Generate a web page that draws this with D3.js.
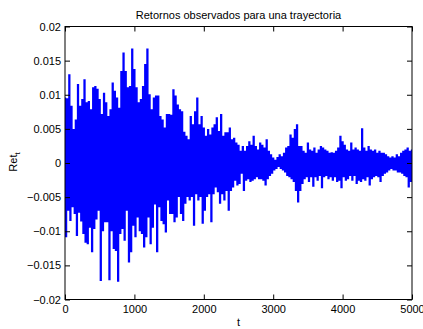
<!DOCTYPE html>
<html>
<head>
<meta charset="utf-8">
<script src="https://cdn.jsdelivr.net/npm/d3@7"></script>
<style>
  body { margin: 0; background: #fff; }
  text { font-family: "Liberation Sans", Arial, Helvetica, sans-serif; }
</style>
</head>
<body>
<div id="chart"></div>
<script>
// chart texts
const title = 'Retornos observados para una trayectoria';
const xLabel = 't';

// returns: upper and lower swing every 31.25 steps of t
const tStep = 31.25;
const retHigh = [
  0.0095, 0.0094, 0.0129, 0.0083, 0.0049, 0.0063, 0.0115, 0.0083, 0.0093, 0.0122,
  0.0088, 0.0090, 0.0078, 0.0110, 0.0112, 0.0108, 0.0093, 0.0071, 0.0102, 0.0088,
  0.0068, 0.0078, 0.0117, 0.0105, 0.0095, 0.0080, 0.0134, 0.0161, 0.0134, 0.0110,
  0.0112, 0.0167, 0.0137, 0.0110, 0.0088, 0.0093, 0.0112, 0.0144, 0.0167, 0.0100,
  0.0078, 0.0095, 0.0098, 0.0098, 0.0068, 0.0063, 0.0051, 0.0071, 0.0071, 0.0070,
  0.0107, 0.0098, 0.0085, 0.0078, 0.0075, 0.0045, 0.0039, 0.0034, 0.0068, 0.0056,
  0.0075, 0.0095, 0.0056, 0.0068, 0.0051, 0.0039, 0.0049, 0.0041, 0.0051, 0.0056,
  0.0066, 0.0046, 0.0071, 0.0039, 0.0044, 0.0044, 0.0051, 0.0034, 0.0036, 0.0029,
  0.0026, 0.0017, 0.0024, 0.0017, 0.0024, 0.0031, 0.0026, 0.0039, 0.0024, 0.0019,
  0.0029, 0.0026, 0.0022, 0.0034, 0.0017, 0.0012, 0.0007, 0.0004, 0.0008, 0.0012,
  0.0009, 0.0014, 0.0022, 0.0024, 0.0041, 0.0036, 0.0049, 0.0056, 0.0024, 0.0024,
  0.0017, 0.0014, 0.0029, 0.0019, 0.0017, 0.0022, 0.0014, 0.0019, 0.0024, 0.0022,
  0.0019, 0.0017, 0.0014, 0.0015, 0.0014, 0.0017, 0.0022, 0.0039, 0.0031, 0.0026,
  0.0019, 0.0017, 0.0029, 0.0019, 0.0022, 0.0019, 0.0017, 0.0050, 0.0022, 0.0017,
  0.0024, 0.0019, 0.0017, 0.0019, 0.0014, 0.0017, 0.0014, 0.0014, 0.0012, 0.0009,
  0.0007, 0.0009, 0.0007, 0.0012, 0.0009, 0.0014, 0.0017, 0.0019, 0.0022, 0.0017,
  0.0019
];
const retLow = [
  -0.0108, -0.0069, -0.0084, -0.0064, -0.0074, -0.0106, -0.0072, -0.0085, -0.0103, -0.0116,
  -0.0118, -0.0094, -0.0130, -0.0096, -0.0082, -0.0069, -0.0172, -0.0099, -0.0086, -0.0086,
  -0.0171, -0.0099, -0.0125, -0.0128, -0.0173, -0.0103, -0.0096, -0.0113, -0.0069, -0.0145,
  -0.0130, -0.0091, -0.0108, -0.0079, -0.0099, -0.0103, -0.0123, -0.0108, -0.0079, -0.0118,
  -0.0094, -0.0060, -0.0130, -0.0064, -0.0084, -0.0089, -0.0101, -0.0054, -0.0074, -0.0074,
  -0.0086, -0.0079, -0.0049, -0.0074, -0.0084, -0.0059, -0.0049, -0.0054, -0.0049, -0.0091,
  -0.0045, -0.0054, -0.0049, -0.0088, -0.0069, -0.0049, -0.0045, -0.0086, -0.0045, -0.0035,
  -0.0042, -0.0059, -0.0045, -0.0054, -0.0040, -0.0069, -0.0040, -0.0035, -0.0025, -0.0032,
  -0.0030, -0.0015, -0.0040, -0.0025, -0.0023, -0.0027, -0.0025, -0.0023, -0.0020, -0.0023,
  -0.0023, -0.0025, -0.0032, -0.0023, -0.0018, -0.0015, -0.0010, -0.0008, -0.0005, -0.0008,
  -0.0010, -0.0013, -0.0018, -0.0020, -0.0023, -0.0027, -0.0040, -0.0057, -0.0040, -0.0030,
  -0.0023, -0.0020, -0.0027, -0.0020, -0.0034, -0.0020, -0.0025, -0.0018, -0.0036, -0.0020,
  -0.0018, -0.0023, -0.0020, -0.0025, -0.0020, -0.0027, -0.0025, -0.0036, -0.0020, -0.0025,
  -0.0023, -0.0018, -0.0025, -0.0018, -0.0030, -0.0025, -0.0027, -0.0023, -0.0025, -0.0020,
  -0.0032, -0.0023, -0.0020, -0.0018, -0.0020, -0.0027, -0.0018, -0.0015, -0.0013, -0.0010,
  -0.0008, -0.0010, -0.0010, -0.0013, -0.0013, -0.0015, -0.0018, -0.0020, -0.0035, -0.0027,
  -0.0020
];

// axes
const xDomain = [0, 5000];
const yDomain = [-0.02, 0.02];
const xTicks = [0, 1000, 2000, 3000, 4000, 5000];
const yTicks = [-0.02, -0.015, -0.01, -0.005, 0, 0.005, 0.01, 0.015, 0.02];

const width = 423, height = 329;
const margin = {top: 26.5, right: 11, bottom: 29.5, left: 65};
const tickLen = 5;

const svg = d3.select('#chart').append('svg')
  .attr('width', width)
  .attr('height', height);

const x = d3.scaleLinear().domain(xDomain).range([margin.left, width - margin.right]);
const y = d3.scaleLinear().domain(yDomain).range([height - margin.bottom, margin.top]);

// swing between the upper and lower value of each step
const series = [];
retHigh.forEach((v, i) => {
  series.push([i * tStep, v]);
  series.push([Math.min(i * tStep + tStep / 2, xDomain[1]), retLow[i]]);
});

svg.append('clipPath')
  .attr('id', 'plot-clip')
  .append('rect')
  .attr('x', x(xDomain[0]))
  .attr('y', y(yDomain[1]))
  .attr('width', x(xDomain[1]) - x(xDomain[0]))
  .attr('height', y(yDomain[0]) - y(yDomain[1]));

// dense trace: vertical swings every ~1px, as the 5000-point line looks
const line = d3.line()
  .curve(d3.curveStep)
  .x(d => x(d[0]))
  .y(d => y(d[1]));

svg.append('path')
  .datum(series)
  .attr('clip-path', 'url(#plot-clip)')
  .attr('fill', 'none')
  .attr('stroke', '#0000ff')
  .attr('stroke-width', 1.2)
  .attr('d', line);

// axes with inward ticks on all four sides
const fmt = d3.format('~g');

const gBottom = svg.append('g')
  .attr('transform', 'translate(0,' + y(yDomain[0]) + ')')
  .call(d3.axisBottom(x).tickValues(xTicks).tickFormat(d3.format('d'))
    .tickSizeInner(-tickLen).tickSizeOuter(0).tickPadding(6));

const gTop = svg.append('g')
  .attr('transform', 'translate(0,' + y(yDomain[1]) + ')')
  .call(d3.axisTop(x).tickValues(xTicks).tickFormat('')
    .tickSizeInner(-tickLen).tickSizeOuter(0));

const gLeft = svg.append('g')
  .attr('transform', 'translate(' + x(xDomain[0]) + ',0)')
  .call(d3.axisLeft(y).tickValues(yTicks).tickFormat(fmt)
    .tickSizeInner(-tickLen).tickSizeOuter(0).tickPadding(4));

const gRight = svg.append('g')
  .attr('transform', 'translate(' + x(xDomain[1]) + ',0)')
  .call(d3.axisRight(y).tickValues(yTicks).tickFormat('')
    .tickSizeInner(-tickLen).tickSizeOuter(0));

[gBottom, gTop, gLeft, gRight].forEach(g => {
  g.select('.domain').remove();
  g.selectAll('.tick line').attr('stroke', '#000');
  g.selectAll('text')
    .attr('fill', '#000')
    .style('font-size', '11px')
    .style('font-family', '"Liberation Sans", Arial, Helvetica, sans-serif');
});

// box
svg.append('rect')
  .attr('x', x(xDomain[0]))
  .attr('y', y(yDomain[1]))
  .attr('width', x(xDomain[1]) - x(xDomain[0]))
  .attr('height', y(yDomain[0]) - y(yDomain[1]))
  .attr('fill', 'none')
  .attr('stroke', '#000')
  .attr('stroke-width', 1);

// title
svg.append('text')
  .attr('x', (x(xDomain[0]) + x(xDomain[1])) / 2)
  .attr('y', 18.5)
  .attr('text-anchor', 'middle')
  .style('font-size', '11px')
  .text(title);

// x label
svg.append('text')
  .attr('x', (x(xDomain[0]) + x(xDomain[1])) / 2)
  .attr('y', 326)
  .attr('text-anchor', 'middle')
  .style('font-size', '11px')
  .text(xLabel);

// y label: Ret with subscript t
const yLab = svg.append('text')
  .attr('transform', 'translate(17,' + (y(0) - 1) + ') rotate(-90)')
  .attr('text-anchor', 'middle')
  .style('font-size', '11px');
yLab.append('tspan').text('Ret');
yLab.append('tspan')
  .attr('dy', 3)
  .style('font-size', '8px')
  .text('t');
</script>
</body>
</html>
